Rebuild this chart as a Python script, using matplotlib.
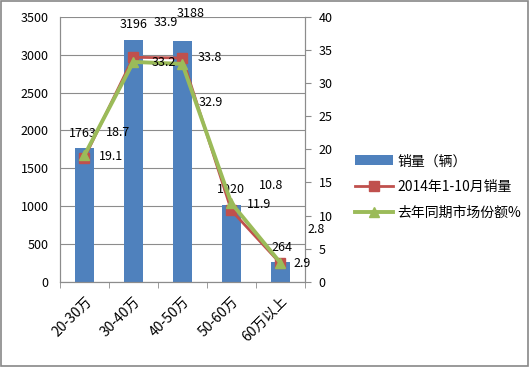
import numpy as np
import matplotlib.pyplot as plt
from matplotlib.patches import Rectangle

plt.rcParams['font.family'] = ['Noto Sans CJK SC', 'DejaVu Sans']

# dados
categorias = ['20-30万', '30-40万', '40-50万', '50-60万', '60万以上']
vendas = [1763, 3196, 3188, 1020, 264]
share_2014 = [18.7, 33.9, 33.8, 10.8, 2.8]
share_ano_passado = [19.1, 33.2, 32.9, 11.9, 2.9]

azul = '#4F81BD'
vermelho = '#C0504D'
verde = '#9BBB59'
fs = 9

fig = plt.figure(figsize=(5.30, 3.67), dpi=100)
fig.patches.append(Rectangle((0.002, 0.003), 0.995, 0.994, transform=fig.transFigure,
                             fill=False, edgecolor='#888888', linewidth=1.2))
ax = fig.add_axes([0.113, 0.232, 0.462, 0.722])
ax2 = ax.twinx()

x = np.arange(len(categorias))
barras = ax.bar(x, vendas, width=0.39, color=azul, label='销量（辆）', zorder=2)
ax.set_ylim(0, 3500)
ax.set_xlim(-0.5, len(categorias) - 0.5)
ax.set_yticks(np.arange(0, 3501, 500))
ax.grid(axis='y', color='#8c8c8c', linewidth=0.8, zorder=0)
ax.set_axisbelow(True)

# linhas
l1, = ax2.plot(x, share_2014, color=vermelho, linewidth=2, marker='s', markersize=7,
               label='2014年1-10月销量')
l2, = ax2.plot(x, share_ano_passado, color=verde, linewidth=2.8, marker='^', markersize=7,
               label='去年同期市场份额%')
ax2.set_ylim(0, 40)
ax2.set_yticks(np.arange(0, 41, 5))

# rótulos dos dados (deslocamentos em pixels)
off_barras = [(-2, 15), (0, 15), (8, 27), (0, 15), (2, 14)]
for xi, v, (dx, dy) in zip(x, vendas, off_barras):
    ax.annotate(str(v), (xi, v), xytext=(dx, dy), textcoords='offset pixels',
                ha='center', va='center', fontsize=fs)
off_red = [(34, 25), (32, 35), (28, 0), (40, 25), (36, 34)]
for xi, v, (dx, dy) in zip(x, share_2014, off_red):
    ax2.annotate(f'{v}', (xi, v), xytext=(dx, dy), textcoords='offset pixels',
                 ha='center', va='center', fontsize=fs)
off_green = [(27, -1), (30, -1), (28, -39), (28, -1), (22, -1)]
for xi, v, (dx, dy) in zip(x, share_ano_passado, off_green):
    ax2.annotate(f'{v}', (xi, v), xytext=(dx, dy), textcoords='offset pixels',
                 ha='center', va='center', fontsize=fs)

# eixos
for a in (ax, ax2):
    a.spines['top'].set_visible(False)
    a.spines['left'].set_color('#8c8c8c')
    a.spines['right'].set_color('#8c8c8c')
    a.spines['bottom'].set_color('#8c8c8c')
ax.tick_params(axis='y', length=0, labelsize=fs, pad=8)
ax2.tick_params(axis='y', length=4, color='#8c8c8c', labelsize=fs, pad=6)
ax.set_xticks(x)
ax.set_xticklabels(categorias, rotation=45, ha='right', rotation_mode='anchor', fontsize=10)
ax.tick_params(axis='x', length=0, pad=9)
ax.set_xticks(np.arange(-0.5, len(categorias), 1), minor=True)
ax.tick_params(axis='x', which='minor', length=4, color='#8c8c8c')

fig.legend(handles=[barras, l1, l2], loc='upper left', bbox_to_anchor=(0.66, 0.595),
           frameon=False, fontsize=10, handlelength=2.7, labelspacing=0.85,
           borderaxespad=0, handletextpad=0.3)

fig.savefig('out.png', dpi=100)
